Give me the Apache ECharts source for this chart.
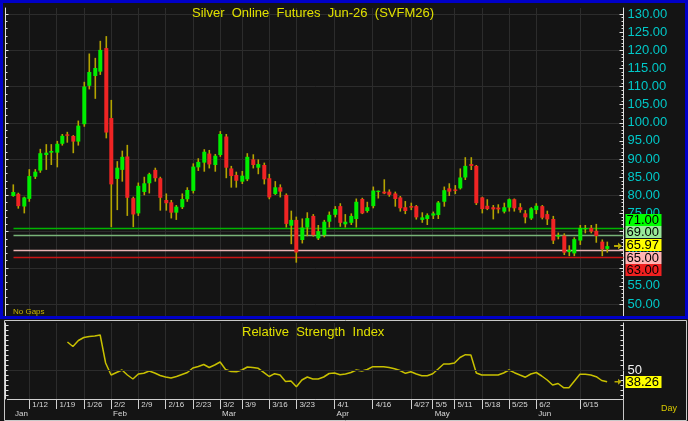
<!DOCTYPE html>
<html lang="en">
<head>
<meta charset="UTF-8">
<title>Silver Online Futures Jun-26 (SVFM26)</title>
<script src="https://cdn.jsdelivr.net/npm/echarts@6/dist/echarts.min.js"></script>
<style>
  html, body { margin: 0; padding: 0; background: #141414; }
  #chart { width: 688px; height: 421px; }
</style>
</head>
<body>
<div id="chart"></div>
<script>
// daily candles
var openArr = [79.8, 80.4, 76.9, 79.0, 85.1, 86.8, 91.1, 91.75, 91.75, 94.2,
  96.8, 96.35, 94.8, 99.6, 110.2, 112.9, 114.1, 120.6, 101.3, 84.5,
  87.0, 90.7, 79.2, 75.0, 80.9, 83.3, 87.0, 84.7, 78.7, 78.05,
  75.2, 76.7, 78.9, 81.2, 87.7, 89.0, 91.5, 88.35, 91.1, 96.2,
  87.4, 85.6, 83.75, 84.4, 89.9, 87.6, 88.35, 84.7, 80.35, 82.2,
  80.1, 71.6, 73.2, 67.65, 71.1, 74.3, 68.1, 69.0, 72.7, 74.6,
  77.0, 71.98, 72.4, 73.45, 78.97, 75.65, 77.0, 81.2, 81.0, 81.0,
  80.5, 79.4, 76.7, 77.0, 77.0, 73.2, 73.45, 74.4, 74.55, 78.2,
  81.9, 81.6, 81.9, 84.9, 88.6, 88.1, 79.4, 77.1, 76.7, 76.6,
  75.47, 76.6, 78.9, 76.7, 75.0, 73.6, 75.9, 77.0, 74.8, 73.45,
  68.6, 68.85, 64.3, 63.97, 67.5, 70.9, 71.0, 70.2, 67.2, 65.2];
var highArr = [83.0, 80.7, 79.6, 87.2, 87.2, 92.8, 94.1, 94.1, 95.0, 96.9,
  97.5, 96.6, 100.6, 111.3, 119.1, 117.9, 122.6, 123.9, 106.3, 89.4,
  92.3, 93.9, 79.6, 83.5, 85.1, 86.2, 87.6, 85.1, 80.5, 78.7,
  77.3, 80.5, 82.2, 88.8, 90.2, 92.7, 92.5, 91.4, 97.7, 96.9,
  88.1, 86.5, 86.7, 91.6, 91.3, 89.9, 89.0, 85.9, 83.9, 83.0,
  80.5, 75.75, 74.1, 73.6, 75.3, 74.8, 71.8, 73.2, 75.5, 77.0,
  77.8, 74.8, 75.0, 79.1, 79.3, 78.2, 82.4, 81.3, 84.4, 81.6,
  81.0, 79.8, 78.4, 77.95, 77.3, 75.3, 75.0, 75.5, 78.4, 82.4,
  83.3, 82.8, 87.4, 90.5, 90.5, 88.35, 79.6, 78.9, 77.3, 77.5,
  77.95, 79.1, 79.1, 77.8, 75.9, 76.7, 77.8, 77.3, 75.75, 74.3,
  69.7, 69.5, 66.2, 68.4, 71.8, 71.8, 71.8, 72.1, 67.8, 67.2];
var lowArr = [79.6, 76.3, 75.0, 78.2, 84.5, 86.2, 87.0, 88.35, 87.7, 93.7,
  94.5, 91.6, 93.7, 98.9, 109.2, 106.6, 113.2, 95.7, 71.2, 75.9,
  83.75, 74.3, 71.2, 74.3, 80.0, 80.5, 83.75, 75.75, 75.75, 73.6,
  73.2, 76.2, 78.2, 80.5, 86.7, 86.5, 87.4, 86.5, 90.6, 84.7,
  82.1, 82.1, 83.1, 83.9, 87.4, 85.8, 83.0, 78.9, 80.1, 79.4,
  71.1, 66.5, 61.4, 66.7, 68.7, 68.6, 67.65, 68.4, 71.1, 73.9,
  71.3, 71.1, 71.8, 71.1, 74.8, 75.2, 76.4, 79.1, 80.3, 79.6,
  76.85, 75.5, 74.8, 75.9, 73.3, 72.4, 71.8, 73.45, 73.45, 76.85,
  79.8, 80.3, 81.6, 84.2, 86.97, 77.3, 75.0, 75.9, 73.35, 75.0,
  75.0, 75.5, 75.5, 75.2, 72.25, 73.2, 74.8, 73.35, 71.8, 66.55,
  67.85, 63.5, 63.2, 63.2, 66.3, 69.5, 69.5, 66.9, 63.2, 64.16];
var closeArr = [80.9, 77.0, 79.4, 85.3, 86.5, 91.6, 91.75, 92.2, 94.2, 96.4,
  96.4, 94.8, 99.2, 110.0, 114.0, 115.1, 120.1, 97.3, 83.0, 87.6,
  90.6, 79.3, 74.7, 82.6, 83.3, 85.8, 84.7, 79.3, 77.8, 75.2,
  76.85, 78.95, 81.45, 87.9, 89.2, 92.0, 88.5, 90.9, 96.9, 87.6,
  85.3, 84.0, 85.4, 90.6, 88.35, 88.6, 84.4, 79.4, 82.2, 81.0,
  72.1, 73.2, 64.2, 71.1, 73.7, 69.0, 70.1, 72.7, 74.6, 76.2,
  72.4, 72.7, 74.3, 78.2, 75.0, 76.7, 81.3, 81.25, 80.5, 80.1,
  78.97, 76.4, 75.65, 76.6, 73.9, 73.9, 74.5, 75.0, 78.0, 81.4,
  81.0, 81.2, 84.9, 88.1, 88.1, 77.8, 76.2, 76.2, 76.1, 76.1,
  76.7, 78.9, 76.4, 75.9, 73.9, 76.4, 77.1, 73.8, 73.35, 67.5,
  69.0, 64.16, 64.9, 67.9, 71.0, 70.95, 69.95, 68.75, 65.1, 65.97];

// relative strength index, one value per candle (none for the first ten)
var rsiArr = [null, null, null, null, null, null, null, null, null, null,
  78, 73.5, 79.5, 82.5, 83.5, 84, 85, 57, 45, 47.5,
  50, 45, 41, 46, 46.7, 49, 47, 44.5, 43, 42,
  43.5, 45.5, 47.5, 52, 53.5, 55.5, 52.5, 55, 58, 50.5,
  48.5, 48.3, 50, 53, 52.5, 51.7, 47.7, 43.5, 46.3, 45,
  38.5, 39, 33.3, 40, 43, 41, 41, 43, 46.5, 47,
  45.3, 46, 47.5, 50, 49, 50.5, 53.3, 53.3, 53.3, 52.5,
  51.3, 49.5, 46.7, 48.3, 46, 44.3, 44.3, 46.2, 51, 56,
  56, 57, 62.5, 65.3, 65, 47, 45, 45, 45, 45,
  47, 50, 47.3, 45, 42.8, 46, 47.5, 44, 40, 35,
  36.5, 32.3, 32.3, 39, 45.7, 45.7, 45, 43.3, 39.5, 38.26];

// date axis: candle index of each labelled week / month
var tickIdx = [3, 8, 13, 18, 23, 28, 33, 38, 42, 47, 52, 59, 66, 73, 77, 81, 86, 91, 96, 104];
var tickText = ['1/12', '1/19', '1/26', '2/2', '2/9', '2/16', '2/23', '3/2', '3/9', '3/16',
  '3/23', '4/1', '4/16', '4/27', '5/5', '5/11', '5/18', '5/25', '6/2', '6/15'];
var monthIdx = [0, 18, 38, 59, 77, 96];
var monthText = ['Jan', 'Feb', 'Mar', 'Apr', 'May', 'Jun'];

// horizontal levels and the price tags on the right
var levelVals = [71, 69, 65, 63];
var lastPrice = 65.97;
var lastRsi = 38.26;
var tagVals = [71, 69, 65.97, 65, 63];

var levelColors = ['#00b400', '#78b478', '#e8b4b4', '#c81414'];
var tagBg = ['#00ff00', '#98e898', '#ffff00', '#ffb4b4', '#f02020'];
var tagShift = [-8, -3, -1, 8, 13.5];

var UP = '#00ee00', DOWN = '#f02424', WICK = '#b4a400';
var GRIDC = '#2c2c2c';
var FONT = '"Liberation Sans", Arial, sans-serif';

var chart = echarts.init(document.getElementById('chart'));

var nCat = 114;     // blank slot + 110 candles + room for the marker
var cats = [];
for (var k = 0; k < nCat; k++) cats.push(String(k));

function weekAt(cat) { return tickIdx.indexOf(cat - 1); }
function monthAt(cat) { return monthIdx.indexOf(cat - 1); }

var candleData = openArr.map(function (o, i) {
    return [i + 1, o, closeArr[i], lowArr[i], highArr[i]];
});
var rsiData = [];
rsiArr.forEach(function (v, i) { if (v !== null) rsiData.push([i + 1, v]); });

function renderCandle(params, api) {
    var x = api.value(0);
    var o = api.value(1), c = api.value(2), l = api.value(3), h = api.value(4);
    var pO = api.coord([x, o]), pC = api.coord([x, c]);
    var pL = api.coord([x, l]), pH = api.coord([x, h]);
    var cx = Math.round(pO[0]);
    var top = Math.min(pO[1], pC[1]), bot = Math.max(pO[1], pC[1]);
    return {
        type: 'group',
        children: [
            { type: 'rect', shape: { x: cx - 0.5, y: pH[1], width: 1.6, height: pL[1] - pH[1] },
              style: { fill: WICK } },
            { type: 'rect', shape: { x: cx - 1.7, y: top, width: 4, height: Math.max(bot - top, 1.2) },
              style: { fill: c >= o ? UP : DOWN } }
        ]
    };
}

function renderLevel(params, api) {
    var cs = params.coordSys;
    var y = Math.round(api.coord([1, api.value(1)])[1]) + 0.5;
    return { type: 'line', shape: { x1: cs.x + 6, y1: y, x2: cs.x + cs.width, y2: y },
             style: { stroke: levelColors[params.dataIndex], lineWidth: 1.4 } };
}

function renderTag(bgList, shifts, labels) {
    return function (params, api) {
        var cs = params.coordSys;
        var y = api.coord([1, api.value(1)])[1] + shifts[params.dataIndex];
        var x = cs.x + cs.width + 2;
        return {
            type: 'group',
            children: [
                { type: 'rect', shape: { x: x, y: Math.round(y - 6), width: 36, height: 12 },
                  style: { fill: bgList[params.dataIndex] } },
                { type: 'text', x: x + 1, y: Math.round(y) + 0.5,
                  style: { text: labels[params.dataIndex], fill: '#000', font: '13px ' + FONT,
                           align: 'left', verticalAlign: 'middle' } }
            ]
        };
    };
}

var arrowPath = 'path://M0,2.5 L4,2.5 L4,0 L8,3.5 L4,7 L4,4.5 L0,4.5 Z';

var hiddenX = { type: 'category', data: cats, boundaryGap: false, show: false };

var option = {
    backgroundColor: '#141414',
    animation: false,
    textStyle: { fontFamily: FONT },
    title: [
        { text: 'Silver  Online  Futures  Jun-26  (SVFM26)', left: 192, top: 7, padding: 0,
          textStyle: { color: '#e0e000', fontSize: 13, fontWeight: 'normal' } },
        { text: 'Relative  Strength  Index', left: 242, top: 326, padding: 0,
          textStyle: { color: '#e0e000', fontSize: 13, fontWeight: 'normal' } },
        { text: 'No Gaps', left: 13, top: 308, padding: 0,
          textStyle: { color: '#c8b400', fontSize: 8, fontWeight: 'normal' } },
        { text: 'Day', left: 661, top: 404, padding: 0,
          textStyle: { color: '#d8c800', fontSize: 9, fontWeight: 'normal' } }
    ],
    grid: [
        { left: 7.5, top: 8, width: 616, height: 308 },     // price panel frame
        { left: 7.5, top: 14, width: 616, height: 290 },    // price scale 50..130
        { left: 7.5, top: 323, width: 616, height: 76 },    // RSI panel frame + dates
        { left: 7.5, top: 325, width: 616, height: 70 }     // RSI scale 25..95
    ],
    xAxis: [
        { type: 'category', gridIndex: 0, data: cats, boundaryGap: false,
          axisLine: { show: false }, axisTick: { show: false }, axisLabel: { show: false },
          splitLine: { show: true, interval: function (i) { return weekAt(i) >= 0; },
                       lineStyle: { color: GRIDC, width: 1 } } },
        echarts.util.extend({ gridIndex: 1 }, hiddenX),
        { type: 'category', gridIndex: 2, data: cats, boundaryGap: false, position: 'bottom',
          axisLine: { show: true, lineStyle: { color: '#d0d0d0', width: 1 } },
          axisTick: { show: true, length: 10, interval: function (i) { return weekAt(i) >= 0; },
                      lineStyle: { color: '#d0d0d0' } },
          axisLabel: { show: true, interval: function (i) { return weekAt(i) >= 0; },
                       formatter: function (v, i) { var w = weekAt(i); return w >= 0 ? tickText[w] : ''; },
                       align: 'left', padding: [0, 0, 0, 3], margin: 2, color: '#d8d8d8', fontSize: 8 },
          splitLine: { show: true, interval: function (i) { return weekAt(i) >= 0; },
                       lineStyle: { color: GRIDC, width: 1 } } },
        { type: 'category', gridIndex: 2, data: cats, boundaryGap: false, position: 'bottom', offset: 10,
          axisLine: { show: true, lineStyle: { color: '#d0d0d0', width: 1 } },
          axisTick: { show: true, length: 10, interval: function (i) { return monthAt(i) > 0; },
                      lineStyle: { color: '#d0d0d0' } },
          axisLabel: { show: true, interval: function (i) { return monthAt(i) >= 0; },
                       formatter: function (v, i) { var m = monthAt(i); return m >= 0 ? monthText[m] : ''; },
                       align: 'left', padding: [0, 0, 0, 2], margin: 1, color: '#d8d8d8', fontSize: 8 } },
        echarts.util.extend({ gridIndex: 3 }, hiddenX)
    ],
    yAxis: [
        { type: 'value', gridIndex: 0, position: 'right', min: 0, max: 1,
          axisLine: { show: true, lineStyle: { color: '#e0e0e0' } },
          axisTick: { show: false }, axisLabel: { show: false }, splitLine: { show: false } },
        { type: 'value', gridIndex: 0, position: 'left', min: 0, max: 1, offset: 2,
          axisLine: { show: true, lineStyle: { color: '#e0e0e0' } },
          axisTick: { show: false }, axisLabel: { show: false }, splitLine: { show: false } },
        { type: 'value', gridIndex: 1, position: 'right', min: 50, max: 130, interval: 5,
          axisLine: { show: false },
          axisTick: { show: true, inside: true, length: 4, lineStyle: { color: '#e0e0e0' } },
          minorTick: { show: true, splitNumber: 5, length: 2, lineStyle: { color: '#e0e0e0' } },
          axisLabel: { color: '#00c8c8', fontSize: 13, margin: 4,
                       formatter: function (v) { return v.toFixed(2); } },
          splitLine: { show: false } },
        { type: 'value', gridIndex: 1, position: 'left', min: 50, max: 130, interval: 10, offset: 2,
          axisLine: { show: false },
          axisTick: { show: true, inside: true, length: 3, lineStyle: { color: '#e0e0e0' } },
          minorTick: { show: true, splitNumber: 5, length: 2, lineStyle: { color: '#e0e0e0' } },
          axisLabel: { show: false },
          splitLine: { show: true, lineStyle: { color: GRIDC, width: 1 } } },
        { type: 'value', gridIndex: 2, position: 'right', min: 0, max: 1,
          axisLine: { show: true, lineStyle: { color: '#e0e0e0' } },
          axisTick: { show: false }, axisLabel: { show: false }, splitLine: { show: false } },
        { type: 'value', gridIndex: 2, position: 'left', min: 0, max: 1, offset: 2,
          axisLine: { show: true, lineStyle: { color: '#e0e0e0' } },
          axisTick: { show: false }, axisLabel: { show: false }, splitLine: { show: false } },
        { type: 'value', gridIndex: 3, position: 'right', min: 25, max: 95, interval: 5,
          axisLine: { show: false },
          axisTick: { show: true, inside: true, length: 3, lineStyle: { color: '#e0e0e0' } },
          axisLabel: { color: '#f0f0f0', fontSize: 13, margin: 4,
                       formatter: function (v) { return v === 50 ? '50' : ''; } },
          splitLine: { show: false } },
        { type: 'value', gridIndex: 3, position: 'left', min: 25, max: 95, interval: 5, offset: 2,
          axisLine: { show: false },
          axisTick: { show: true, inside: true, length: 3, lineStyle: { color: '#e0e0e0' } },
          axisLabel: { show: false }, splitLine: { show: false } }
    ],
    series: [
        { type: 'custom', name: 'levels', xAxisIndex: 1, yAxisIndex: 2, z: 2,
          data: levelVals.map(function (v) { return [1, v]; }), renderItem: renderLevel },
        { type: 'custom', name: 'SVFM26', xAxisIndex: 1, yAxisIndex: 2, z: 3,
          data: candleData, encode: { x: 0, y: [1, 2, 3, 4] }, renderItem: renderCandle },
        { type: 'custom', name: 'tags', xAxisIndex: 1, yAxisIndex: 2, z: 4, clip: false,
          data: tagVals.map(function (v) { return [1, v]; }),
          renderItem: renderTag(tagBg, tagShift, tagVals.map(function (v) { return v.toFixed(2); })) },
        { type: 'scatter', xAxisIndex: 1, yAxisIndex: 2, z: 4, symbol: arrowPath, symbolSize: [8, 7],
          itemStyle: { color: '#e0d000' }, data: [[112, lastPrice]] },
        { type: 'line', name: 'RSI', xAxisIndex: 4, yAxisIndex: 6, z: 3, data: rsiData,
          showSymbol: false, symbol: 'none', lineStyle: { color: '#c8c000', width: 1.5 },
          markLine: { silent: true, symbol: ['none', 'none'], label: { show: false },
                      lineStyle: { color: GRIDC, type: 'solid', width: 1 }, data: [{ yAxis: 50 }] } },
        { type: 'custom', name: 'rsiTag', xAxisIndex: 4, yAxisIndex: 6, z: 4, clip: false,
          data: [[1, lastRsi]],
          renderItem: renderTag(['#ffff00'], [0], [lastRsi.toFixed(2)]) },
        { type: 'scatter', xAxisIndex: 4, yAxisIndex: 6, z: 4, symbol: arrowPath, symbolSize: [7, 6],
          itemStyle: { color: '#e0d000' }, data: [[112, lastRsi]] }
    ],
    graphic: [
        { type: 'rect', shape: { x: 1.5, y: 1.5, width: 685, height: 316 }, z: 100, silent: true,
          style: { fill: 'none', stroke: '#0000c8', lineWidth: 3 } },
        { type: 'rect', shape: { x: 4.5, y: 320.5, width: 682, height: 100 }, z: 100, silent: true,
          style: { fill: 'none', stroke: '#c8c8c8', lineWidth: 1 } },
        { type: 'line', shape: { x1: 623.5, y1: 399, x2: 623.5, y2: 421 }, z: 100, silent: true,
          style: { stroke: '#c8c8c8', lineWidth: 1 } }
    ]
};

chart.setOption(option);
window.addEventListener('resize', function () { chart.resize(); });
</script>
</body>
</html>
